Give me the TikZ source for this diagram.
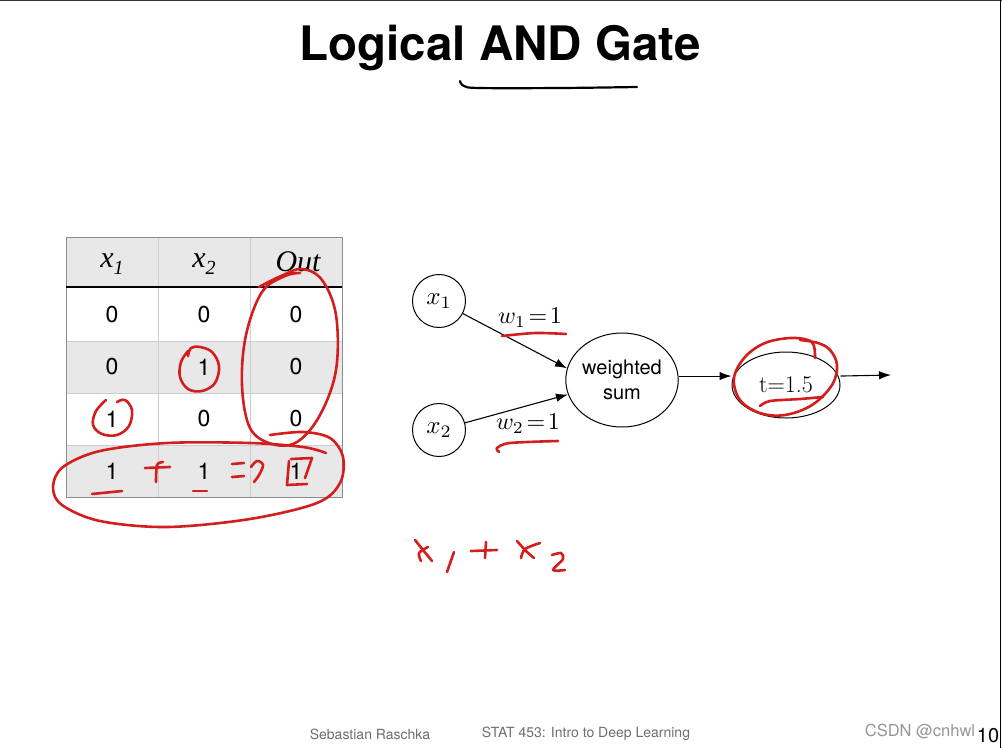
\documentclass[tikz,border=0pt]{standalone}
\usepackage{fontspec}
\newfontfamily\hv{TeX Gyre Heros}
\newfontfamily\tms{Liberation Serif}
\usetikzlibrary{arrows.meta,shapes.geometric}
\definecolor{hred}{RGB}{212,30,30}
\definecolor{rowgray}{RGB}{232,232,232}
\definecolor{gridgray}{RGB}{205,205,205}
\definecolor{footgray}{RGB}{110,110,110}
\definecolor{wmgray}{RGB}{150,150,150}
\begin{document}
\begin{tikzpicture}[x=1pt,y=-1pt,
  hand/.style={draw=hred,line width=2.6pt,line cap=round,line join=round},
  blackhand/.style={draw=black,line width=2.2pt,line cap=round,line join=round},
  conn/.style={line width=1.1pt,-{Latex[length=12pt,width=8.5pt]}},
  cell/.style={font=\hv\fontsize{23}{23}\selectfont,anchor=center,inner sep=0},
  headcell/.style={font=\tms\itshape\fontsize{30}{30}\selectfont,anchor=center,inner sep=0},
  unit/.style={circle,draw,line width=1pt,minimum size=53pt,inner sep=0},
  oval/.style={ellipse,draw,line width=1pt,inner sep=0},
  wlabel/.style={inner sep=0},
  foot/.style={font=\hv\fontsize{14}{14}\selectfont,text=footgray,inner sep=0}
]
\useasboundingbox (0,0) rectangle (1002,748);
\fill[white] (0,0) rectangle (1002,748);
\draw[black!80,line width=1.2pt] (0,0.6) -- (1002,0.6);
\draw[black,line width=1.5pt] (1000.5,0) -- (1000.5,748);

% title
\node[font=\hv\bfseries\fontsize{47.5}{47.5}\selectfont,inner sep=0] (title) at (500,48) {Logical AND Gate};
\draw[blackhand] plot[smooth,tension=0.6] coordinates {(460,81) (464,86) (480,88) (560,88) (637,87)};

% table
\fill[rowgray] (66,237) rectangle (342,287);
\fill[rowgray] (66,341) rectangle (342,393);
\fill[rowgray] (66,445) rectangle (342,497);
\draw[gridgray,line width=0.8pt] (158,237) -- (158,497) (250,237) -- (250,497)
  (66,341) -- (342,341) (66,393) -- (342,393) (66,445) -- (342,445);
\draw[black!45,line width=0.9pt] (66,237) rectangle (342,497);
\draw[black,line width=2pt] (66,287) -- (342,287);

\node[headcell] (h1) at (112,264) {x\raisebox{-0.22em}{\fontsize{20}{20}\selectfont 1}};
\node[headcell] (h2) at (204,264) {x\raisebox{-0.22em}{\fontsize{20}{20}\selectfont 2}};
\node[headcell] (h3) at (298,262) {Out};

\node[cell] (a11) at (112,315) {0};
\node[cell] (a12) at (204,315) {0};
\node[cell] (a13) at (296,315) {0};
\node[cell] (a21) at (112,367) {0};
\node[cell] (a22) at (204,367) {1};
\node[cell] (a23) at (296,367) {0};
\node[cell] (a31) at (112,419) {1};
\node[cell] (a32) at (204,419) {0};
\node[cell] (a33) at (296,419) {0};
\node[cell] (a41) at (112,471) {1};
\node[cell] (a42) at (204,471) {1};
\node[cell] (a43) at (296,471) {1};

% network
\node[unit] (x1) at (439,301) {\scalebox{2.5}{$x_1$}};
\node[unit] (x2) at (439,430) {\scalebox{2.5}{$x_2$}};
\node[oval,minimum width=110pt,minimum height=94pt,align=center,font=\hv\fontsize{20}{25}\selectfont] (ws) at (622,380) {weighted\\sum};
\node[oval,minimum width=108pt,minimum height=66pt,font=\fontsize{24}{24}\selectfont] (th) at (786,385) {t=1.5};
\coordinate (out) at (891,375);
\node[wlabel] (w1) at (530,318) {\scalebox{2.4}{$w_1\!=\!1$}};
\node[wlabel] (w2) at (528,424) {\scalebox{2.4}{$w_2\!=\!1$}};

\draw[conn] (x1) -- (ws.168);
\draw[conn] (x2) -- (ws.195);
\draw[conn] (ws.4) -- (th.west |- ws.4);
\draw[conn] (th.east |- ws.4) -- (out);

% red handwriting: table
\draw[hand] plot[smooth,tension=0.6] coordinates {(259,287) (281,276) (302,269) (322,280) (336,315) (336,370) (320,415) (297,442) (272,444) (250,428) (242,385) (246,335) (262,292) (285,276) (300,273)};
\draw[hand] plot[smooth,tension=0.6] coordinates {(188,356) (191,348) (200,347) (212,352) (219,366) (215,383) (202,391) (188,389) (180,377) (181,362) (188,351)};
\draw[hand] plot[smooth,tension=0.6] coordinates {(106,400) (96,411) (93,425) (102,434) (117,435) (129,426) (132,410) (125,400) (117,402)};
\draw[hand] plot[smooth,tension=0.55] coordinates {(270,435) (303,432) (330,438) (343,457) (340,483) (317,503) (250,519) (167,527) (100,521) (62,505) (53,487) (63,467) (100,451) (167,443) (250,443) (303,447) (326,453)};
\draw[hand] (92,494) -- (122,491);
\draw[hand] (193,491) -- (207,491);
\draw[hand] (145,468) -- (170,467);
\draw[hand] plot[smooth] coordinates {(163,462) (157,465) (156,482)};
\draw[hand] (232,464) -- (244,463) (232,477) -- (244,476);
\draw[hand] plot[smooth,tension=0.6] coordinates {(251,467) (257,461) (263,465) (259,475) (254,482)};
\draw[hand] (289,461) -- (287,485) -- (307,484);
\draw[hand] (291,459) -- (312,458) -- (305,478);

% red handwriting: network
\draw[hand] plot[smooth] coordinates {(502,336) (535,333) (566,334)};
\draw[hand] plot[smooth] coordinates {(499,452) (497,448) (510,443) (558,441)};
\draw[hand] plot[smooth,tension=0.6] coordinates {(815,358) (814,346) (808,340) (790,338) (765,343) (745,357) (734,378) (740,400) (760,413) (785,415) (812,405) (832,385) (837,365) (830,350) (818,343) (800,340)};
\draw[hand] plot[smooth] coordinates {(760,406) (770,401) (800,399) (823,397)};

% red handwriting: x1 + x2
\draw[hand] plot[smooth] coordinates {(415,540) (423,550) (432,561)};
\draw[hand] plot[smooth] coordinates {(428,547) (419,553) (421,561)};
\draw[hand] (454,552) -- (447,572);
\draw[hand] (471,551) -- (497,550);
\draw[hand] (486,542) -- (485,558);
\draw[hand] plot[smooth] coordinates {(517,541) (526,551) (534,558)};
\draw[hand] plot[smooth] coordinates {(540,543) (525,549) (521,558)};
\draw[hand] plot[smooth,tension=0.5] coordinates {(552,555) (561,553) (563,559) (553,570) (565,570)};

% footer
\node[foot] (author) at (370,734) {Sebastian Raschka};
\node[foot] (course) at (586,734) {STAT 453: Intro to Deep Learning};
\node[font=\hv\fontsize{16.5}{16.5}\selectfont,text=wmgray,inner sep=0] (wm) at (920,731) {CSDN @cnhwl};
\node[font=\hv\fontsize{20}{20}\selectfont,inner sep=0] (pg) at (988,736) {10};
\end{tikzpicture}
\end{document}
